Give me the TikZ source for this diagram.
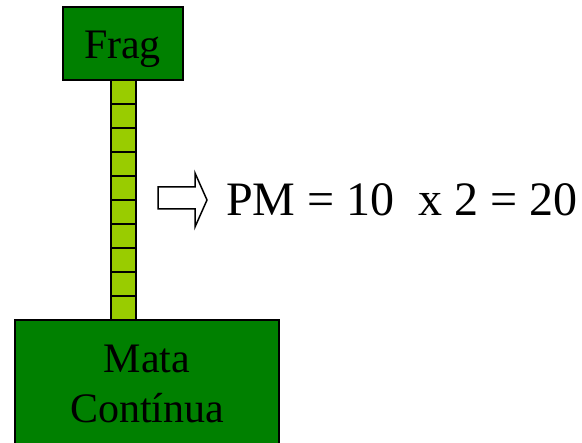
\documentclass[tikz,border=0pt]{standalone}
\usepackage{fontspec}
\setmainfont{Liberation Serif}
\usetikzlibrary{positioning}
\definecolor{verde}{RGB}{0,128,0}
\definecolor{haste}{RGB}{153,204,0}
\tikzset{
  box/.style ={draw,line width=2pt,fill=verde,inner sep=0pt,font=\fontsize{42}{50}\selectfont},
  seg/.style ={draw,line width=1.2pt,fill=haste,inner sep=0pt,minimum width=25pt,minimum height=24pt},
  txt/.style ={font=\fontsize{48}{56}\selectfont,inner sep=0pt},
}
\begin{document}
\begin{tikzpicture}[x=1pt,y=-1pt]
  \clip (0,0) rectangle (582,443);
  % corredor
  \foreach \i in {0,...,9}
    \node[seg] (s\i) at (123.5,92+24*\i) {};
  \node[box,minimum width=120pt,minimum height=73pt,text height=31pt,text depth=0pt] (frag) at (122.5,43.5) {Frag};
  \node[box,minimum width=264pt,minimum height=127pt,anchor=north,align=center] (mata) at (147,319) {Mata\\Contínua};
  % seta
  \draw[line width=1.5pt,fill=white] (158,187) -- (195,187) -- (195,173) -- (207,200)
    -- (195,227) -- (195,209) -- (158,209) -- cycle;
  \node[txt,anchor=base west] (pm) at (226,216) {PM = 10~ x 2 = 20};
\end{tikzpicture}
\end{document}
